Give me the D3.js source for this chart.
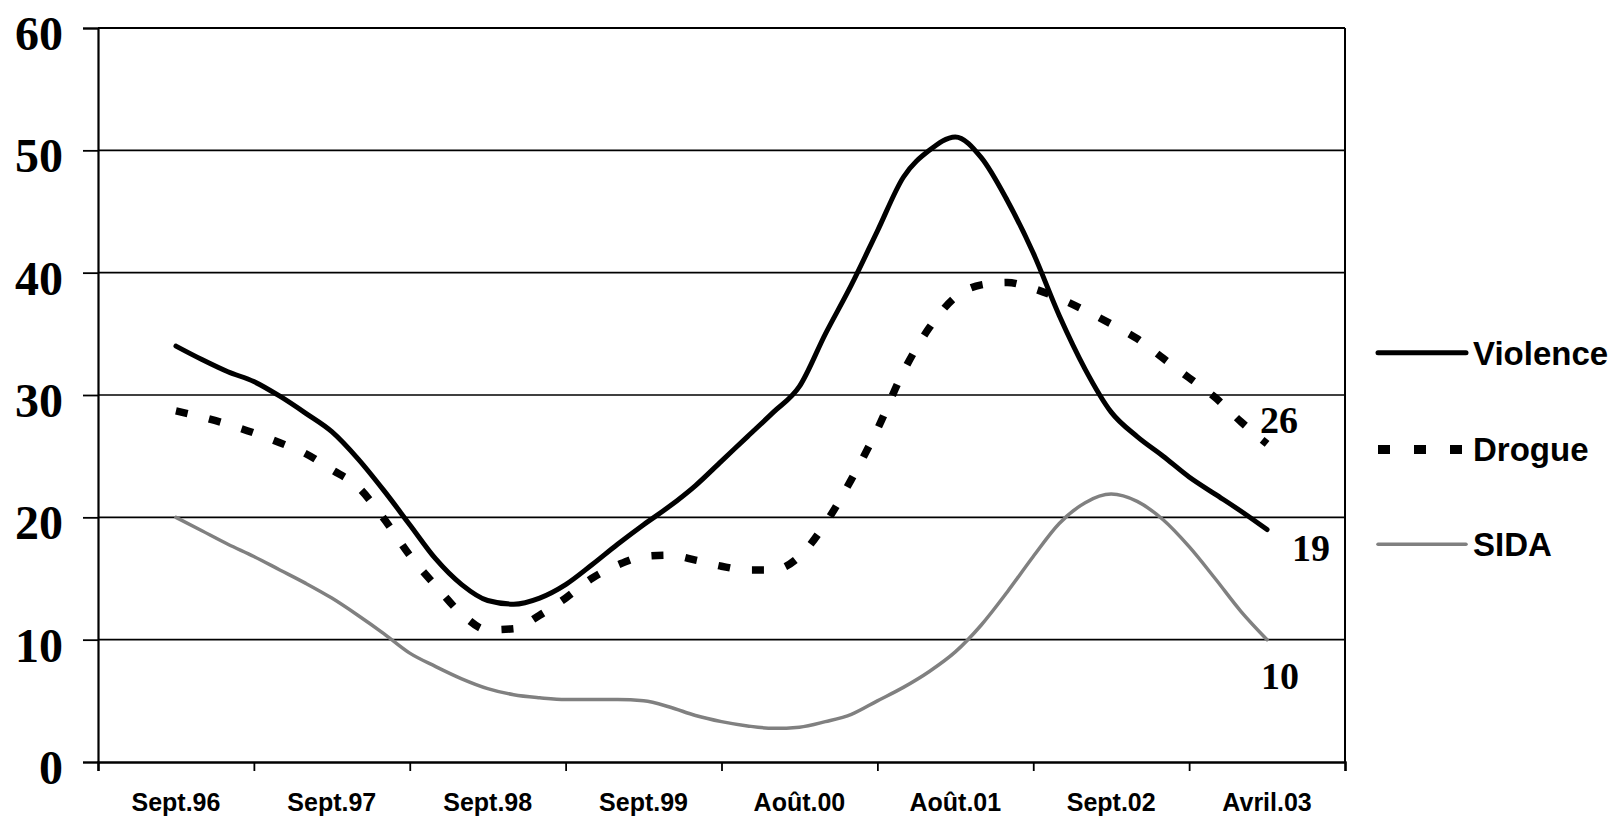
<!DOCTYPE html>
<html>
<head>
<meta charset="utf-8">
<script src="https://cdn.jsdelivr.net/npm/d3@7"></script>
<style>
  html, body { margin: 0; padding: 0; background: #fff; }
  svg { display: block; }
</style>
</head>
<body>
<svg id="chart" width="1613" height="816"></svg>
<script>
// ---------- DATA ----------
const categories = ["Sept.96", "Sept.97", "Sept.98", "Sept.99", "Août.00", "Août.01", "Sept.02", "Avril.03"];
const yTicks = [0, 10, 20, 30, 40, 50, 60];
// samples every 1/6 of a category step, from the first to the last category
const samplePositions = d3.range(43).map(k => k / 6);
const violence = [34.0, 32.9, 31.9, 31.1, 29.9, 28.5, 27.0, 24.8, 22.2, 19.4,
                  16.6, 14.5, 13.2, 12.9, 13.4, 14.5, 16.1, 17.8, 19.4, 20.9,
                  22.6, 24.6, 26.6, 28.6, 30.7, 35.0, 39.0, 43.4, 47.8, 50.0,
                  51.1, 49.4, 45.9, 41.6, 36.5, 32.1, 28.6, 26.6, 25.0, 23.3,
                  21.9, 20.5, 19.0];
const drogue = [28.7, 28.2, 27.6, 26.9, 26.1, 25.2, 23.9, 22.5, 19.9, 16.9,
                14.4, 12.1, 10.8, 10.9, 12.0, 13.4, 15.0, 16.1, 16.8, 16.9,
                16.5, 16.0, 15.7, 15.7, 16.8, 19.5, 23.1, 27.2, 31.9, 35.5,
                38.0, 39.0, 39.2, 38.7, 37.9, 36.9, 35.8, 34.6, 33.0, 31.4,
                29.8, 27.8, 26.0];
const sida = [20.0, 18.9, 17.8, 16.8, 15.7, 14.6, 13.4, 12.0, 10.5, 8.9,
              7.8, 6.8, 6.0, 5.5, 5.25, 5.1, 5.1, 5.1, 5.0, 4.5,
              3.8, 3.3, 2.95, 2.75, 2.85, 3.3, 3.9, 5.0, 6.1, 7.4,
              9.0, 11.2, 13.9, 16.8, 19.5, 21.2, 21.9, 21.3, 19.8, 17.6,
              15.0, 12.3, 10.0];
const seriesNames = ["Violence", "Drogue", "SIDA"];
const endLabels = ["26", "19", "10"]; // Drogue, Violence, SIDA

// ---------- LAYOUT ----------
const svg = d3.select("#chart");
const plotLeft = 98, plotRight = 1345, plotTop = 28, plotBottom = 762;

const xBand = d3.scaleBand().domain(categories).range([plotLeft, plotRight]).padding(0);
const xLin = d3.scaleLinear().domain([-0.5, categories.length - 0.5]).range([plotLeft, plotRight]);
const y = d3.scaleLinear().domain([0, 60]).range([plotBottom, plotTop]);

// gridlines
svg.append("g")
  .selectAll("line")
  .data(yTicks.filter(d => d > 0))
  .join("line")
  .attr("x1", plotLeft).attr("x2", plotRight)
  .attr("y1", d => y(d)).attr("y2", d => y(d))
  .attr("stroke", "#000")
  .attr("stroke-width", d => d === 60 ? 2.2 : 1.6);

// right border
svg.append("line")
  .attr("x1", plotRight).attr("x2", plotRight)
  .attr("y1", y(60)).attr("y2", y(0))
  .attr("stroke", "#000").attr("stroke-width", 2);

// y axis
const yAxis = svg.append("g")
  .attr("transform", `translate(${plotLeft},0)`)
  .call(d3.axisLeft(y).tickValues(yTicks).tickSize(15).tickPadding(20).tickFormat(d3.format("d")));
yAxis.select(".domain").attr("stroke", "#000").attr("stroke-width", 2.2);
yAxis.selectAll(".tick line").attr("stroke", "#000").attr("stroke-width", 1.8);
yAxis.selectAll(".tick text")
  .attr("font-family", "'Liberation Serif', 'Times New Roman', serif")
  .attr("font-weight", "bold")
  .attr("font-size", 48)
  .attr("fill", "#000")
  .attr("x", 63 - plotLeft)
  .attr("dy", null)
  .attr("y", 21.5)
  .attr("text-anchor", "end");

// x axis: ticks at category boundaries
const xTickAxis = svg.append("g")
  .attr("transform", `translate(0,${plotBottom})`)
  .call(d3.axisBottom(xLin)
    .tickValues(d3.range(categories.length + 1).map(i => i - 0.5))
    .tickSize(9).tickFormat(""));
xTickAxis.select(".domain").attr("stroke", "#000").attr("stroke-width", 2.4);
xTickAxis.selectAll(".tick line").attr("stroke", "#000").attr("stroke-width", 1.8);

// x labels
const xLabelAxis = svg.append("g")
  .attr("transform", `translate(0,${plotBottom})`)
  .call(d3.axisBottom(xBand).tickSize(0));
xLabelAxis.select(".domain").remove();
xLabelAxis.selectAll(".tick text")
  .attr("font-family", "'Liberation Sans', Arial, sans-serif")
  .attr("font-weight", "bold")
  .attr("font-size", 25)
  .attr("fill", "#000")
  .attr("dy", null)
  .attr("y", 49);

// lines
const line = d3.line()
  .x((d, i) => xLin(samplePositions[i]))
  .y(d => y(d))
  .curve(d3.curveMonotoneX);

const styles = {
  Violence: { stroke: "#000", width: 5, dash: null },
  Drogue:   { stroke: "#000", width: 7.5, dash: "12,22" },
  SIDA:     { stroke: "#808080", width: 3.5, dash: null }
};
const seriesData = { Violence: violence, Drogue: drogue, SIDA: sida };

["SIDA", "Drogue", "Violence"].forEach(name => {
  const s = styles[name];
  svg.append("path")
    .datum(seriesData[name])
    .attr("d", line)
    .attr("fill", "none")
    .attr("stroke", s.stroke)
    .attr("stroke-width", s.width)
    .attr("stroke-linejoin", "round")
    .attr("stroke-linecap", s.dash ? "butt" : "round")
    .attr("stroke-dasharray", s.dash);
});

// end labels
const lastPos = samplePositions[samplePositions.length - 1];
const labelSpecs = [
  { text: endLabels[0], value: drogue[drogue.length - 1], dx: -7, dy: -11 },
  { text: endLabels[1], value: violence[violence.length - 1], dx: 25, dy: 31 },
  { text: endLabels[2], value: sida[sida.length - 1], dx: -6, dy: 49 }
];
svg.append("g").selectAll("text")
  .data(labelSpecs)
  .join("text")
  .attr("x", d => xLin(lastPos) + d.dx)
  .attr("y", d => y(d.value) + d.dy)
  .attr("font-family", "'Liberation Serif', 'Times New Roman', serif")
  .attr("font-weight", "bold")
  .attr("font-size", 38)
  .attr("fill", "#000")
  .text(d => d.text);

// legend
const legendY = [352.7, 449.5, 544.3];
const legend = svg.append("g");
seriesNames.forEach((name, i) => {
  const s = styles[name];
  legend.append("line")
    .attr("x1", 1378).attr("x2", 1466)
    .attr("y1", legendY[i]).attr("y2", legendY[i])
    .attr("stroke", s.stroke)
    .attr("stroke-width", name === "Drogue" ? 9 : s.width)
    .attr("stroke-linecap", s.dash ? "butt" : "round")
    .attr("stroke-dasharray", s.dash ? "12,24" : null);
  legend.append("text")
    .attr("x", 1473)
    .attr("y", legendY[i] + 11.8)
    .attr("font-family", "'Liberation Sans', Arial, sans-serif")
    .attr("font-weight", "bold")
    .attr("font-size", 33)
    .attr("fill", "#000")
    .text(name);
});
</script>
</body>
</html>
